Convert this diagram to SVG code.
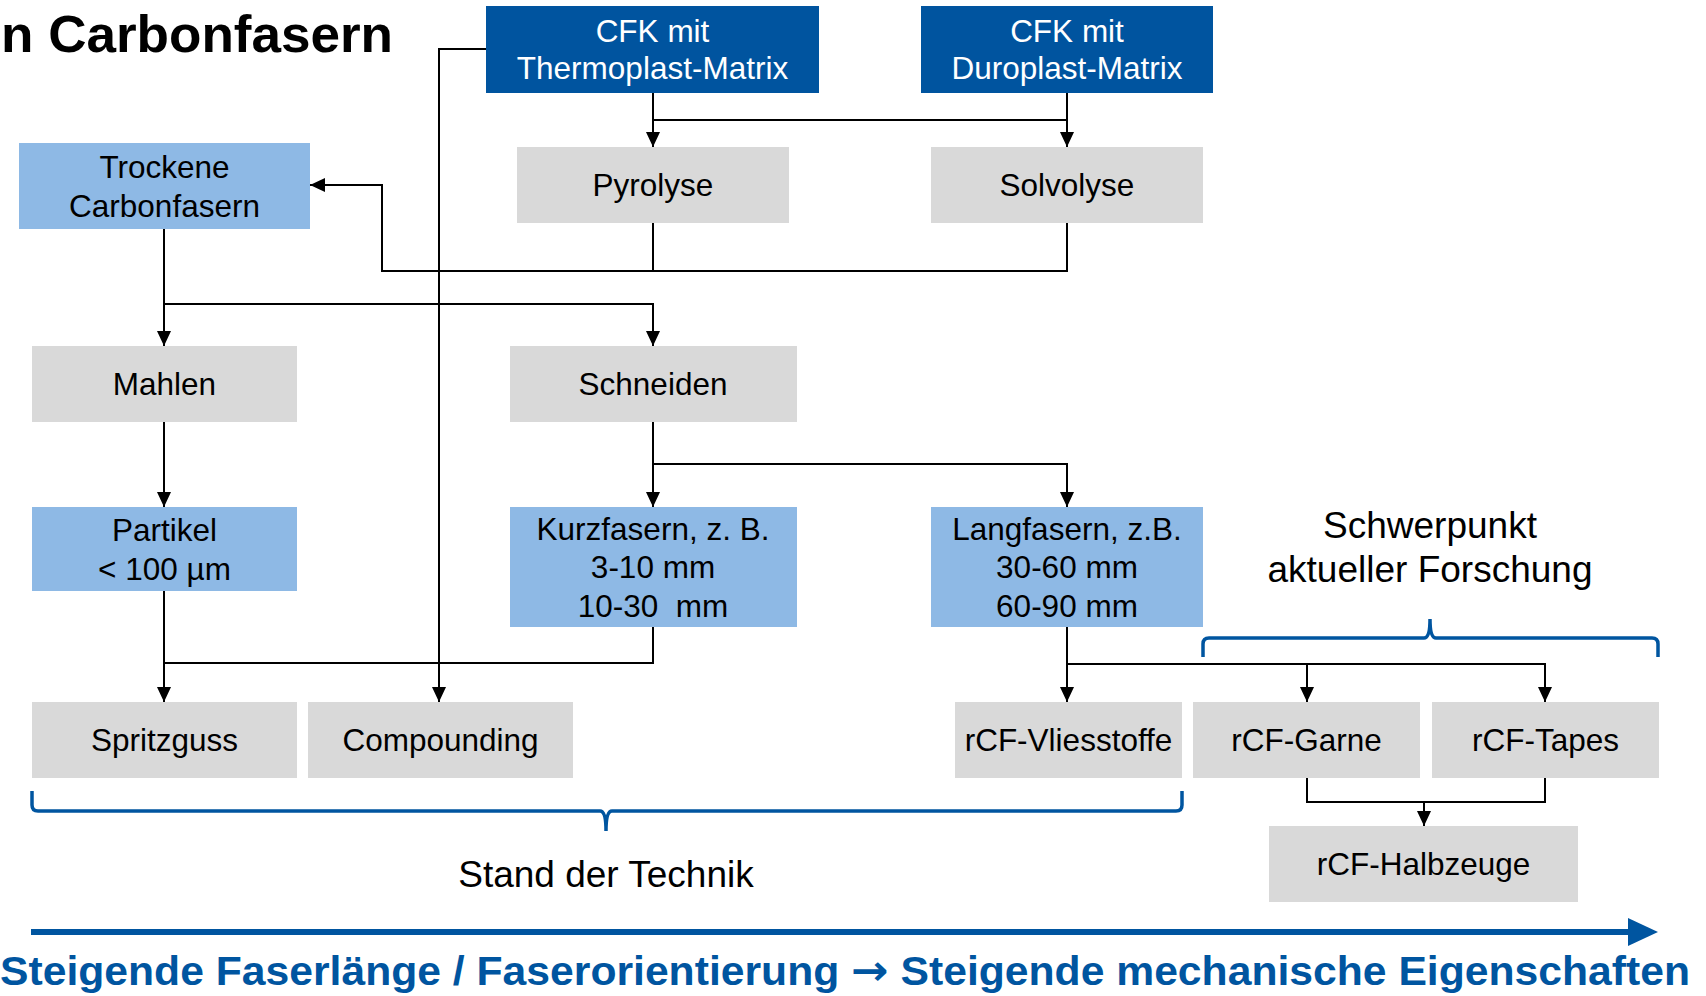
<svg xmlns="http://www.w3.org/2000/svg" width="1706" height="996" viewBox="0 0 1706 996">
<defs>
<style>
.dk{fill:#00549F}
.lt{fill:#8EB9E5}
.gr{fill:#D9D9D9}
text{font-family:"Liberation Sans",Arial,sans-serif;text-anchor:middle;font-size:31.5px;fill:#000}
.w{fill:#fff}
.big{font-size:37px}
.conn{fill:none;stroke:#000;stroke-width:2}
.brace{fill:none;stroke:#0055A0;stroke-width:3.5}
</style>
<marker id="ah" markerUnits="userSpaceOnUse" markerWidth="15" markerHeight="14" refX="15" refY="7" orient="auto">
<path d="M0,0 L15,7 L0,14 z" fill="#000"/>
</marker>
</defs>
<rect width="1706" height="996" fill="#fff"/>
<text x="1" y="52" style="text-anchor:start;font-weight:bold;font-size:52px" textLength="392" lengthAdjust="spacingAndGlyphs">n Carbonfasern</text>

<g id="connectors">
<path class="conn" d="M653,93 V147" marker-end="url(#ah)"/>
<path class="conn" d="M1067,93 V147" marker-end="url(#ah)"/>
<path class="conn" d="M653,120 H1067"/>
<path class="conn" d="M486,49 H439 V702" marker-end="url(#ah)"/>
<path class="conn" d="M653,223 V271"/>
<path class="conn" d="M1067,223 V271 H382 V185 H310" marker-end="url(#ah)"/>
<path class="conn" d="M164,229 V346" marker-end="url(#ah)"/>
<path class="conn" d="M164,304 H653 V346" marker-end="url(#ah)"/>
<path class="conn" d="M164,422 V507" marker-end="url(#ah)"/>
<path class="conn" d="M653,422 V507" marker-end="url(#ah)"/>
<path class="conn" d="M653,464 H1067 V507" marker-end="url(#ah)"/>
<path class="conn" d="M164,591 V702" marker-end="url(#ah)"/>
<path class="conn" d="M653,627 V663 H164"/>
<path class="conn" d="M1067,627 V702" marker-end="url(#ah)"/>
<path class="conn" d="M1067,664 H1545 V702" marker-end="url(#ah)"/>
<path class="conn" d="M1307,664 V702" marker-end="url(#ah)"/>
<path class="conn" d="M1307,778 V802 H1545 V778"/>
<path class="conn" d="M1424,802 V826" marker-end="url(#ah)"/>
</g>

<g id="cfk-thermo"><rect class="dk" x="486" y="6" width="333" height="87"/><text class="w" x="652.5" y="42">CFK mit</text><text class="w" x="652.5" y="79">Thermoplast-Matrix</text></g>
<g id="cfk-duro"><rect class="dk" x="921" y="6" width="292" height="87"/><text class="w" x="1067" y="42">CFK mit</text><text class="w" x="1067" y="79">Duroplast-Matrix</text></g>
<g id="trockene"><rect class="lt" x="19" y="143" width="291" height="86"/><text x="164.5" y="178">Trockene</text><text x="164.5" y="217">Carbonfasern</text></g>
<g id="pyrolyse"><rect class="gr" x="517" y="147" width="272" height="76"/><text x="653" y="196">Pyrolyse</text></g>
<g id="solvolyse"><rect class="gr" x="931" y="147" width="272" height="76"/><text x="1067" y="196">Solvolyse</text></g>
<g id="mahlen"><rect class="gr" x="32" y="346" width="265" height="76"/><text x="164.5" y="395">Mahlen</text></g>
<g id="schneiden"><rect class="gr" x="510" y="346" width="287" height="76"/><text x="653" y="395">Schneiden</text></g>
<g id="partikel"><rect class="lt" x="32" y="507" width="265" height="84"/><text x="164.5" y="541">Partikel</text><text x="164.5" y="580">&lt; 100 µm</text></g>
<g id="kurzfasern"><rect class="lt" x="510" y="507" width="287" height="120"/><text x="653" y="540">Kurzfasern, z. B.</text><text x="653" y="578">3-10 mm</text><text x="653" y="617" xml:space="preserve">10-30  mm</text></g>
<g id="langfasern"><rect class="lt" x="931" y="507" width="272" height="120"/><text x="1067" y="540">Langfasern, z.B.</text><text x="1067" y="578">30-60 mm</text><text x="1067" y="617">60-90 mm</text></g>
<g id="spritzguss"><rect class="gr" x="32" y="702" width="265" height="76"/><text x="164.5" y="751">Spritzguss</text></g>
<g id="compounding"><rect class="gr" x="308" y="702" width="265" height="76"/><text x="440.5" y="751">Compounding</text></g>
<g id="vliesstoffe"><rect class="gr" x="955" y="702" width="227" height="76"/><text x="1068.5" y="751">rCF-Vliesstoffe</text></g>
<g id="garne"><rect class="gr" x="1193" y="702" width="227" height="76"/><text x="1306.5" y="751">rCF-Garne</text></g>
<g id="tapes"><rect class="gr" x="1432" y="702" width="227" height="76"/><text x="1545.5" y="751">rCF-Tapes</text></g>
<g id="halbzeuge"><rect class="gr" x="1269" y="826" width="309" height="76"/><text x="1423.5" y="875">rCF-Halbzeuge</text></g>

<g id="schwerpunkt">
<path class="brace" d="M1203,657 V644 Q1203,638 1209,638 H1424 Q1430,638 1430,619 Q1430,638 1436,638 H1652 Q1658,638 1658,644 V657"/>
<text class="big" x="1430" y="538">Schwerpunkt</text>
<text class="big" x="1430" y="582">aktueller Forschung</text>
</g>
<g id="stand">
<path class="brace" d="M32,791 V805 Q32,811 38,811 H600 Q606,811 606,831 Q606,811 612,811 H1176 Q1182,811 1182,805 V791"/>
<text class="big" x="606" y="887">Stand der Technik</text>
</g>
<g id="axis">
<path d="M31,932 H1632" stroke="#0055A0" stroke-width="6" fill="none"/>
<path d="M1628,918 L1658,932 L1628,946 z" fill="#0055A0"/>
<text x="0" y="985" style="text-anchor:start;font-weight:bold;font-size:40px;fill:#0055A0" textLength="1690" lengthAdjust="spacingAndGlyphs">Steigende Faserlänge / Faserorientierung <tspan style="font-family:'DejaVu Sans',sans-serif;font-size:42px">→</tspan> Steigende mechanische Eigenschaften</text>
</g>
</svg>
